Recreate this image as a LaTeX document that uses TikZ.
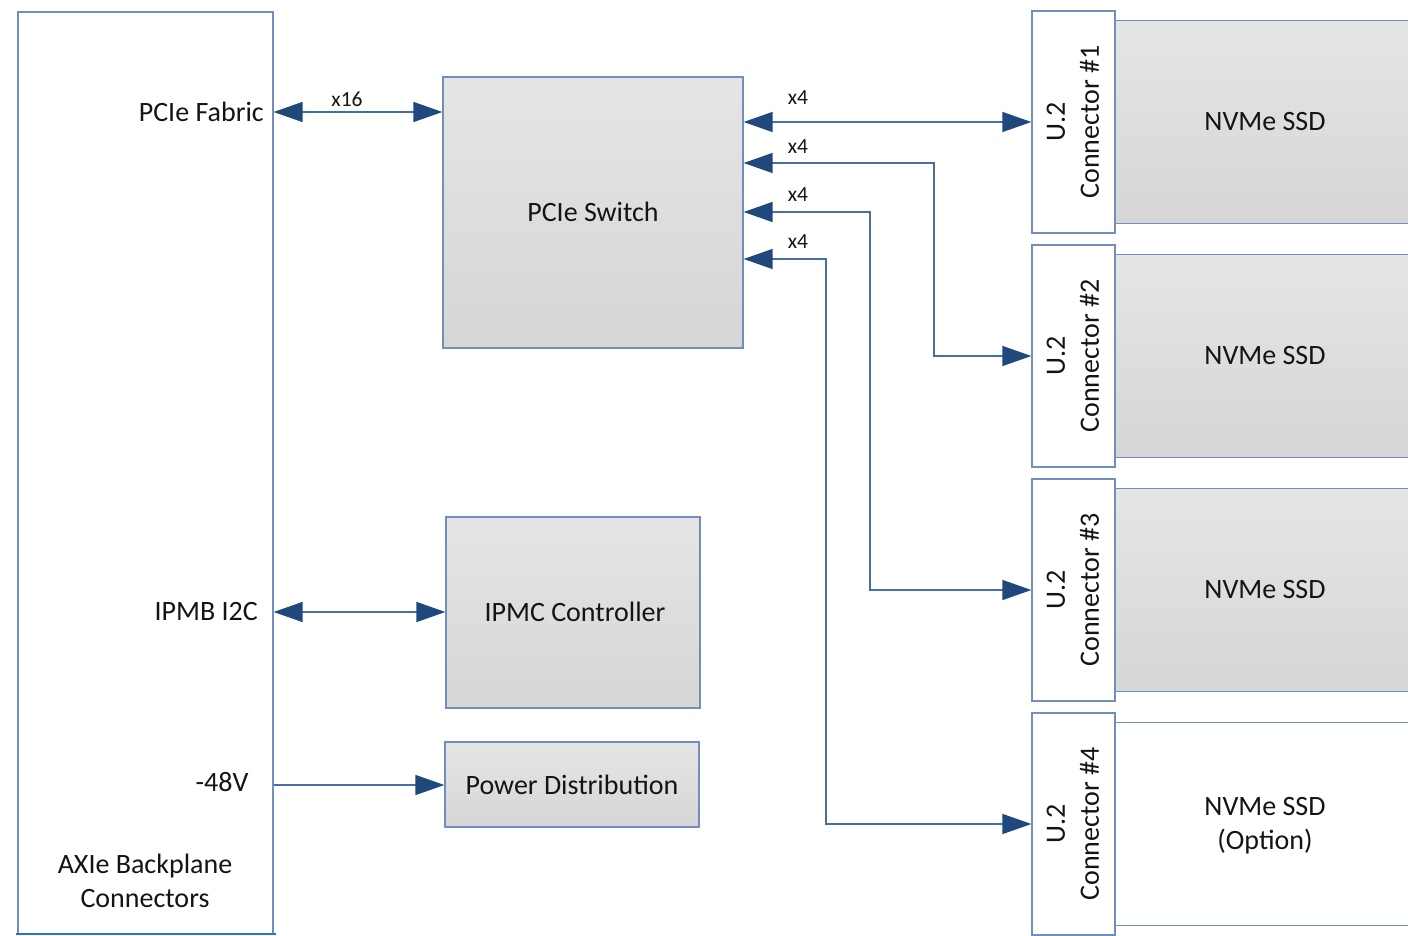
\documentclass[tikz,border=0pt]{standalone}
\usepackage{fontspec}
\setmainfont{Carlito}
\usetikzlibrary{arrows.meta}
\definecolor{bord}{RGB}{112,142,190}
\definecolor{lin}{RGB}{72,110,168}
\definecolor{tip}{RGB}{31,73,125}
\definecolor{gtop}{RGB}{229,229,229}
\definecolor{gbot}{RGB}{214,214,214}
\definecolor{botline}{RGB}{46,116,181}
\definecolor{txt}{RGB}{20,20,20}
\tikzset{
  box/.style={draw=bord, line width=1.3pt, inner sep=0pt, fill=white},
  graybox/.style={box, top color=gtop, bottom color=gbot},
  lbl/.style={font=\fontsize{28}{34}\selectfont, text=txt, align=center, inner sep=0pt},
  small/.style={font=\fontsize{21.5}{24}\selectfont, text=txt, inner sep=0pt},
  conn/.style={draw=lin, line width=1.4pt},
  bi/.style={conn, {Triangle[length=29pt,width=20pt,fill=tip,color=tip]}-{Triangle[length=29pt,width=20pt,fill=tip,color=tip]}},
  one/.style={conn, -{Triangle[length=29pt,width=20pt,fill=tip,color=tip]}},
}
\begin{document}
\begin{tikzpicture}[x=1pt,y=-1pt]
\useasboundingbox (0,0) rectangle (1408,936);
\clip (0,0) rectangle (1408,936);
\fill[white] (0,0) rectangle (1408,936);

% left backplane box
\node[box, minimum width=255pt, minimum height=922pt] (axie) at (145.5,473) {};
\draw[botline, line width=2.5pt] (16,934) -- (276,934);
\node[lbl] (axietxt) at (145,881) {AXIe Backplane\\Connectors};
\node[lbl, anchor=east] (fabtxt) at (264,112) {PCIe Fabric};
\node[lbl, anchor=east] (ipmbtxt) at (258,612) {IPMB I2C};
\node[lbl] (v48txt) at (222,782) {-48V};

% middle blocks
\node[graybox, minimum width=300pt, minimum height=271pt] (sw) at (593,212.5) {};
\node[lbl] (swtxt) at (593,212) {PCIe Switch};
\node[graybox, minimum width=254pt, minimum height=191pt] (ipmc) at (573,612.5) {};
\node[lbl] (ipmctxt) at (575,612) {IPMC Controller};
\node[graybox, minimum width=254pt, minimum height=85pt] (pwr) at (572,784.5) {};
\node[lbl] (pwrtxt) at (572,785) {Power Distribution};

% SSDs and connectors
\foreach \i/\yc in {1/122,2/356,3/590}{
  \node[graybox, minimum width=300pt, minimum height=203pt] (ssd\i) at (1265,\yc) {};
  \node[lbl] (ssdtxt\i) at (1265,\yc) {NVMe SSD};
}
\node[box, minimum width=300pt, minimum height=203pt] (ssd4) at (1265,824) {};
\node[lbl] (ssdtxt4) at (1265,826) {NVMe SSD\\(Option)};
\foreach \i/\yc in {1/122,2/356,3/590,4/824}{
  \node[box, minimum width=83pt, minimum height=222pt] (c\i) at (1073.5,\yc) {};
  \node[lbl, rotate=90] (ctxt\i) at (1073,\yc) {U.2\\Connector \#\i};
}

% connectors
\draw[bi] (axie.east |- fabtxt) -- (sw.west |- fabtxt);
\node[small] (x16) at (347,99) {x16};
\draw[bi] (axie.east |- ipmctxt) -- (ipmc.west |- ipmctxt);
\draw[one] (axie.east |- pwrtxt) -- (pwr.west |- pwrtxt);

\draw[bi] (sw.east |- c1.west) -- (c1.west);
\coordinate (k2) at (934,163);
\coordinate (k3) at (870,212);
\coordinate (k4) at (826,259);
\draw[bi] (sw.east |- k2) -- (k2) |- (c2.west);
\draw[bi] (sw.east |- k3) -- (k3) |- (c3.west);
\draw[bi] (sw.east |- k4) -- (k4) |- (c4.west);
\node[small] (l1) at (798,98) {x4};
\node[small] (l2) at (798,147) {x4};
\node[small] (l3) at (798,195) {x4};
\node[small] (l4) at (798,242) {x4};
\end{tikzpicture}
\end{document}
